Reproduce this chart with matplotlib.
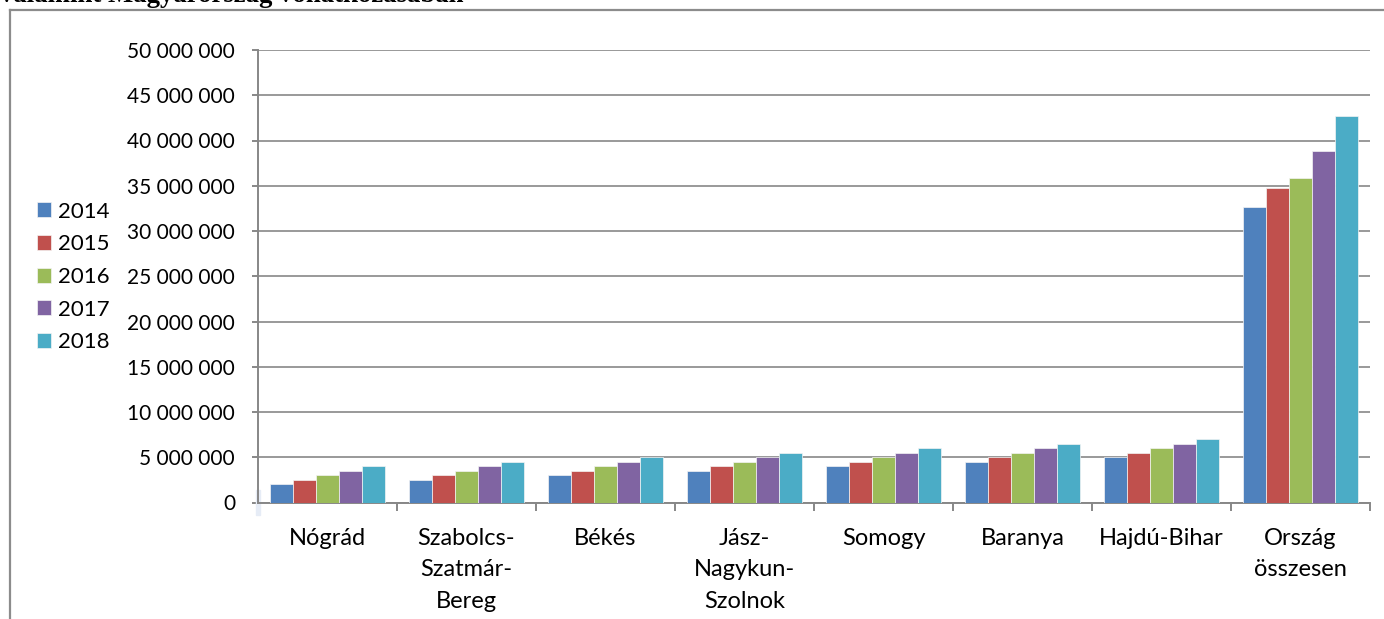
import numpy as np
import matplotlib.pyplot as plt
from matplotlib.lines import Line2D
from matplotlib.patches import Rectangle
from matplotlib.ticker import FuncFormatter, FixedLocator

# Adatok (millió Ft-ban leolvasva)
megyek = ['Nógrád', 'Szabolcs-\nSzatmár-\nBereg', 'Békés', 'Jász-\nNagykun-\nSzolnok',
          'Somogy', 'Baranya', 'Hajdú-Bihar', 'Ország\nösszesen']
evek = ['2014', '2015', '2016', '2017', '2018']
v2014 = [2.0, 2.5, 3.0, 3.5, 4.0, 4.5, 5.0, 32.7]
v2015 = [2.5, 3.0, 3.5, 4.0, 4.5, 5.0, 5.5, 34.8]
v2016 = [3.0, 3.5, 4.0, 4.5, 5.0, 5.5, 6.0, 35.9]
v2017 = [3.5, 4.0, 4.5, 5.0, 5.5, 6.0, 6.5, 38.85]
v2018 = [4.0, 4.5, 5.0, 5.5, 6.0, 6.5, 7.0, 42.7]
ertekek = [v2014, v2015, v2016, v2017, v2018]
szinek = ['#4F81BD', '#C0504D', '#9BBB59', '#8064A2', '#4BACC6']

plt.rcParams['font.family'] = ['Lato', 'DejaVu Sans']

fig = plt.figure(figsize=(13.84, 6.19), dpi=100)
ax = fig.add_axes([258 / 1384, 1 - 502.5 / 619, (1370 - 258) / 1384, (502.5 - 50) / 619])

x = np.arange(len(megyek))
szel = 0.1655
for i, (ev, vals) in enumerate(zip(evek, ertekek)):
    ax.bar(x + (i - 2) * szel, np.array(vals) * 1e6, width=szel, color=szinek[i],
           edgecolor='#f4f4f4', linewidth=0.5, label=ev, zorder=3)

szurke = '#878787'
ax.set_xlim(-0.5, len(megyek) - 0.5)
ax.set_ylim(0, 50e6)
ax.set_yticks(np.arange(0, 50e6 + 1, 5e6))
ax.yaxis.set_major_formatter(FuncFormatter(lambda v, p: f'{int(v):,}'.replace(',', ' ')))
ax.grid(axis='y', color=szurke, linewidth=1.2, zorder=0)
ax.set_axisbelow(True)

for s in ['top', 'right']:
    ax.spines[s].set_visible(False)
for s in ['left', 'bottom']:
    ax.spines[s].set_color(szurke)
    ax.spines[s].set_linewidth(1.4)

ax.set_xticks(x)
ax.set_xticklabels(megyek, fontsize=17, linespacing=1.6, va='top')
ax.xaxis.set_minor_locator(FixedLocator(np.arange(-0.5, len(megyek), 1.0)))
ax.tick_params(axis='x', which='major', length=0, pad=18.5)
ax.tick_params(axis='x', which='minor', length=6, width=1.4, color=szurke, direction='out')
ax.tick_params(axis='y', length=4.5, width=1.4, color=szurke, labelsize=15, pad=12)

# halvany folt a tengely aljan
ax.add_patch(Rectangle((-0.5 - 2 / 139, -1.4e6), 4 / 139, 2.8e6, transform=ax.transData,
                       color='#e6ecf6', clip_on=False, zorder=1))

ax.legend(loc='center left', bbox_to_anchor=(37 / 1384, 1 - 277 / 619),
          bbox_transform=fig.transFigure, frameon=False, fontsize=16,
          handlelength=0.65, handleheight=0.65, handletextpad=0.3,
          labelspacing=0.57, borderpad=0, borderaxespad=0)

# kulso keret
fig.add_artist(Line2D([10 / 1384, 10 / 1384], [0, 1 - 10 / 619], color='#8c8c8c', linewidth=1.6,
                      transform=fig.transFigure))
fig.add_artist(Line2D([10 / 1384, 1], [1 - 10 / 619, 1 - 10 / 619], color='#8c8c8c', linewidth=1.6,
                      transform=fig.transFigure))

# levagott cim
fig.text(0, 1 - 2 / 619, 'valamint Magyarország vonatkozásában', family='Liberation Serif',
         weight='bold', fontsize=19.3, va='baseline', ha='left')

fig.savefig('out.png', dpi=100)
